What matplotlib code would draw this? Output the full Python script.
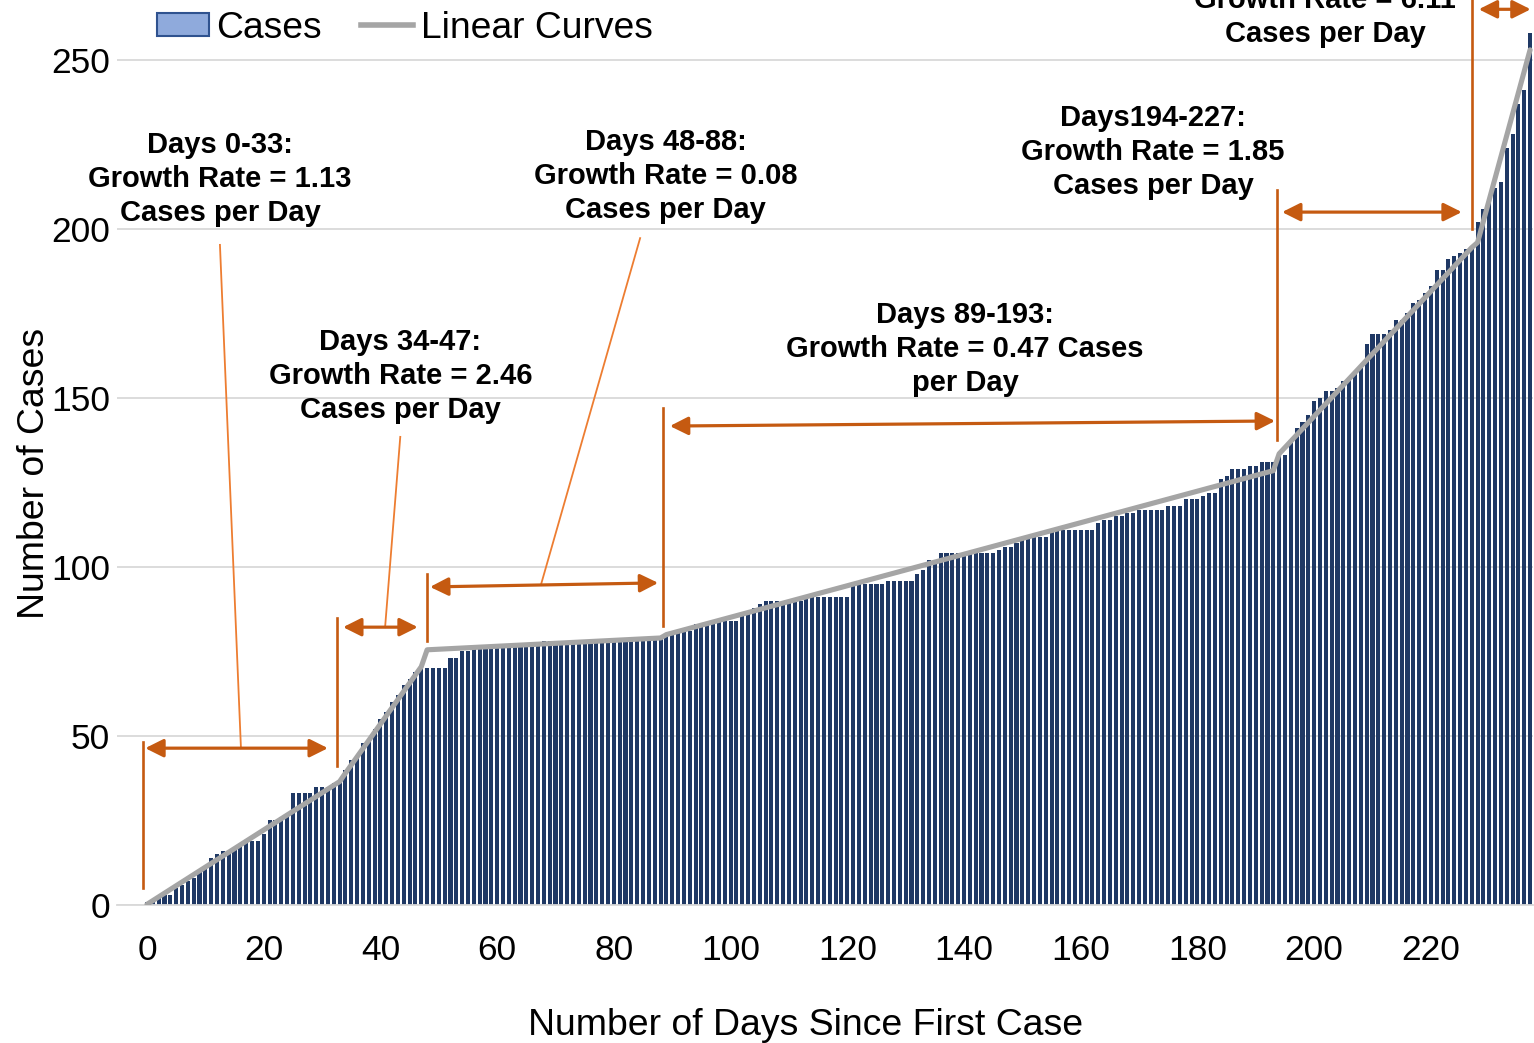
import numpy as np
import matplotlib
matplotlib.use('Agg')
import matplotlib.pyplot as plt
from matplotlib.patches import Patch
from matplotlib.lines import Line2D

plt.rcParams['font.family'] = 'Liberation Sans'

# cumulative cases, day 0 .. 237
cases = [
    1, 1, 2, 3, 3, 5, 6, 7, 8, 10,
    11, 14, 15, 16, 16, 17, 18, 19, 19, 19,
    21, 25, 25, 26, 27, 33, 33, 33, 33, 35,
    35, 35, 36, 37, 40, 43, 44, 48, 49, 52,
    55, 57, 60, 62, 65, 67, 69, 70, 70, 70,
    70, 70, 73, 73, 75, 75, 76, 77, 77, 77,
    77, 77, 77, 77, 77, 77, 77, 77, 78, 78,
    78, 78, 78, 78, 78, 78, 78, 78, 78, 78,
    78, 78, 78, 78, 79, 79, 79, 79, 79, 80,
    81, 81, 81, 81, 83, 83, 83, 84, 84, 84,
    84, 84, 86, 87, 88, 89, 90, 90, 90, 90,
    90, 90, 90, 91, 91, 91, 91, 91, 91, 91,
    91, 95, 95, 95, 95, 95, 95, 96, 96, 96,
    96, 96, 98, 99, 102, 102, 104, 104, 104, 104,
    104, 104, 104, 104, 104, 104, 105, 106, 106, 107,
    109, 109, 109, 109, 109, 111, 111, 111, 111, 111,
    111, 111, 111, 113, 114, 114, 115, 115, 116, 116,
    117, 117, 117, 117, 117, 118, 118, 118, 120, 120,
    120, 121, 122, 122, 126, 127, 129, 129, 129, 130,
    130, 131, 131, 131, 133, 133, 137, 141, 143, 145,
    149, 150, 152, 152, 153, 155, 156, 157, 159, 166,
    169, 169, 169, 170, 173, 173, 175, 178, 179, 181,
    183, 188, 188, 191, 192, 193, 194, 195, 202, 206,
    208, 212, 214, 224, 228, 237, 241, 258,
]
days = np.arange(len(cases))

# piecewise linear fits (break points)
line_days = [0, 33, 34, 47, 48, 88, 89, 193, 194, 227, 228, 237]
line_vals = [0.2, 36.5, 39, 70.5, 75.5, 79, 80, 128.5, 133.5, 194.5, 196, 253]

# annotation texts and positions (day, cases)
ann_texts = [
    'Days 0-33:\nGrowth Rate = 1.13\nCases per Day',
    'Days 34-47:\nGrowth Rate = 2.46\nCases per Day',
    'Days 48-88:\nGrowth Rate = 0.08\nCases per Day',
    'Days 89-193:\nGrowth Rate = 0.47 Cases\nper Day',
    'Days194-227:\nGrowth Rate = 1.85\nCases per Day',
    'Growth Rate = 6.11\nCases per Day',
]
ann_pos = [(12.5, 214.8), (43.4, 156.5), (88.9, 215.7), (140.2, 164.5), (172.4, 222.8), (201.9, 262.7)]

# double arrows: (x0, y0, x1, y1)
arrows = [(-0.3, 46.4, 31.0, 46.4), (33.6, 82.2, 46.4, 82.2), (48.5, 94.1, 87.6, 95.3),
          (89.6, 141.7, 193.3, 143.2), (194.5, 205, 225.3, 205), (228.2, 265, 237.1, 265)]
# vertical boundary lines: (x, y0, y1)
vlines = [(-0.7, 5, 48.2), (32.6, 41.1, 84.9), (48.0, 78.1, 97.9),
          (88.4, 82.5, 147), (193.6, 137.6, 211.5), (227.0, 200, 268)]
# leader lines from text to arrow
leaders = [(12.5, 195.3, 16.1, 46.4), (43.4, 138.5, 40.8, 82.2), (84.5, 197.3, 67.5, 94.7)]

dark_orange = '#C55A11'
light_orange = '#ED7D31'

fig = plt.figure(figsize=(15.34, 10.43), dpi=100)
ax = fig.add_axes([117/1534, 1-905/1043, (1533-117)/1534, 905/1043])

ax.bar(days, cases, width=0.7, color='#1F3864', zorder=2)
ax.plot(line_days, line_vals, color='#A5A5A5', lw=3.7, zorder=3, solid_capstyle='round')

ax.set_xlim(-5.14, 237.5)
ax.set_ylim(0, 267.75)
ax.set_xticks(range(0, 221, 20))
ax.set_yticks(range(0, 251, 50))
ax.yaxis.grid(True, color='#D9D9D9', lw=1.3, zorder=0)
ax.set_axisbelow(True)
for s in ['top', 'right', 'left']:
    ax.spines[s].set_visible(False)
ax.spines['bottom'].set_color('#D9D9D9')
ax.spines['bottom'].set_linewidth(1.3)
ax.tick_params(axis='both', length=0, labelsize=25.5)
ax.tick_params(axis='x', pad=21)
ax.tick_params(axis='y', pad=5)

ax.set_xlabel('Number of Days Since First Case', fontsize=26.9)
ax.xaxis.set_label_coords(0.4866, -0.1135)
ax.set_ylabel('Number of Cases', fontsize=26.9)
ax.yaxis.set_label_coords(-0.046, 0.477)

for x, y0, y1 in vlines:
    ax.plot([x, x], [y0, y1], color=dark_orange, lw=1.9, clip_on=False, zorder=4)
for x0, y0, x1, y1 in leaders:
    ax.plot([x0, x1], [y0, y1], color=light_orange, lw=1.3, zorder=4)
for x0, y0, x1, y1 in arrows:
    ax.annotate('', xy=(x1, y1), xytext=(x0, y0), annotation_clip=False,
                arrowprops=dict(arrowstyle='<|-|>,head_length=0.5,head_width=0.25',
                                color=dark_orange, lw=2.3, mutation_scale=22,
                                shrinkA=0, shrinkB=0), zorder=5)
for s, (x, y) in zip(ann_texts, ann_pos):
    ax.text(x, y, s, ha='center', va='center', fontsize=21, fontweight='bold',
            linespacing=1.27, zorder=6)

handles = [Patch(facecolor='#8FAADC', edgecolor='#2F528F', lw=1.5),
           Line2D([], [], color='#A5A5A5', lw=4)]
fig.legend(handles, ['Cases', 'Linear Curves'], loc='center left',
           bbox_to_anchor=(157/1534, 1-28/1043), ncol=2, frameon=False, fontsize=26.8,
           handlelength=1.4, handleheight=0.6, handletextpad=0.2, columnspacing=1.05,
           borderpad=0, borderaxespad=0)

fig.savefig('out.png', dpi=100)
